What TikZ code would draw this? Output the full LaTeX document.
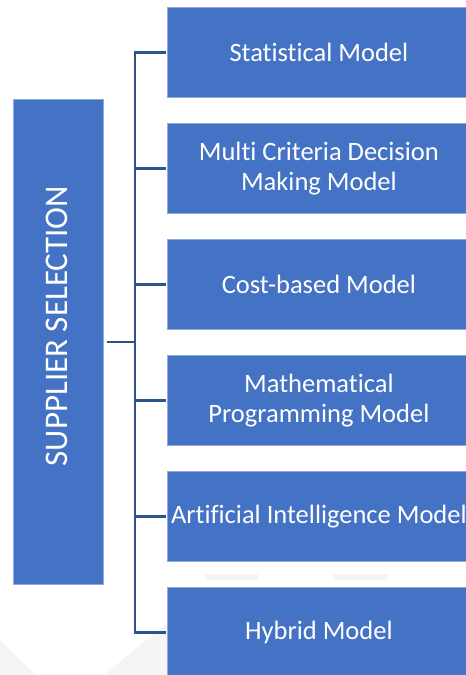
\documentclass[tikz,border=0pt]{standalone}
\usepackage{fontspec}
\setmainfont{Carlito}[Ligatures=NoCommon]
\definecolor{boxblue}{HTML}{4472C4}
\definecolor{boxedge}{HTML}{8FAADC}
\definecolor{linkblue}{HTML}{2F528F}
\definecolor{ghost}{HTML}{F5F5F5}
\begin{document}
\begin{tikzpicture}[x=1pt,y=-1pt,
  model/.style={fill=boxblue, draw=boxedge, line width=0.8pt, text=white,
    minimum width=303pt, minimum height=90pt, anchor=north west,
    align=center, inner sep=0pt, font=\fontsize{26.5}{30}\selectfont},
  rootbox/.style={fill=boxblue, draw=boxedge, line width=0.8pt,
    minimum width=90pt, minimum height=485pt, anchor=north west, inner sep=0pt},
  link/.style={draw=linkblue, line width=2.4pt}]
\useasboundingbox (0,0) rectangle (466,675);
% faint background marks
\fill[ghost] (0,640) -- (36,675) -- (0,675) -- cycle;
\fill[ghost] (168,622) -- (168,675) -- (104,675) -- cycle;
\fill[ghost] (205,574) rectangle (258,580);
\fill[ghost] (333,574) rectangle (388,580);
% root box with its rotated title
\node[rootbox] (root) at (13,99) {};
\node[rotate=90, text=white, font=\fontsize{33}{38}\selectfont] (title) at (57,326) {SUPPLIER SELECTION};
% model boxes
\node[model] (m1) at (167,7)   {Statistical Model};
\node[model] (m2) at (167,123) {Multi Criteria Decision\\Making Model};
\node[model] (m3) at (167,239) {Cost-based Model};
\node[model] (m4) at (167,355) {Mathematical\\Programming Model};
\node[model] (m5) at (167,471) {Artificial Intelligence Model};
\node[model] (m6) at (167,587) {Hybrid Model};
% tree connectors
\coordinate (top) at ([xshift=-32pt]m1.west);
\coordinate (bot) at ([xshift=-32pt]m6.west);
\draw[link] ([xshift=-1.5pt]m1.west) -- (top) -- (bot) -- ([xshift=-1.5pt]m6.west);
\foreach \m in {m2,m3,m4,m5}
  \draw[link] ([xshift=-1.5pt]\m.west) -- (\m.west -| top);
\draw[link] ([xshift=3pt]root.east) -- (root.east -| top);
\end{tikzpicture}
\end{document}
